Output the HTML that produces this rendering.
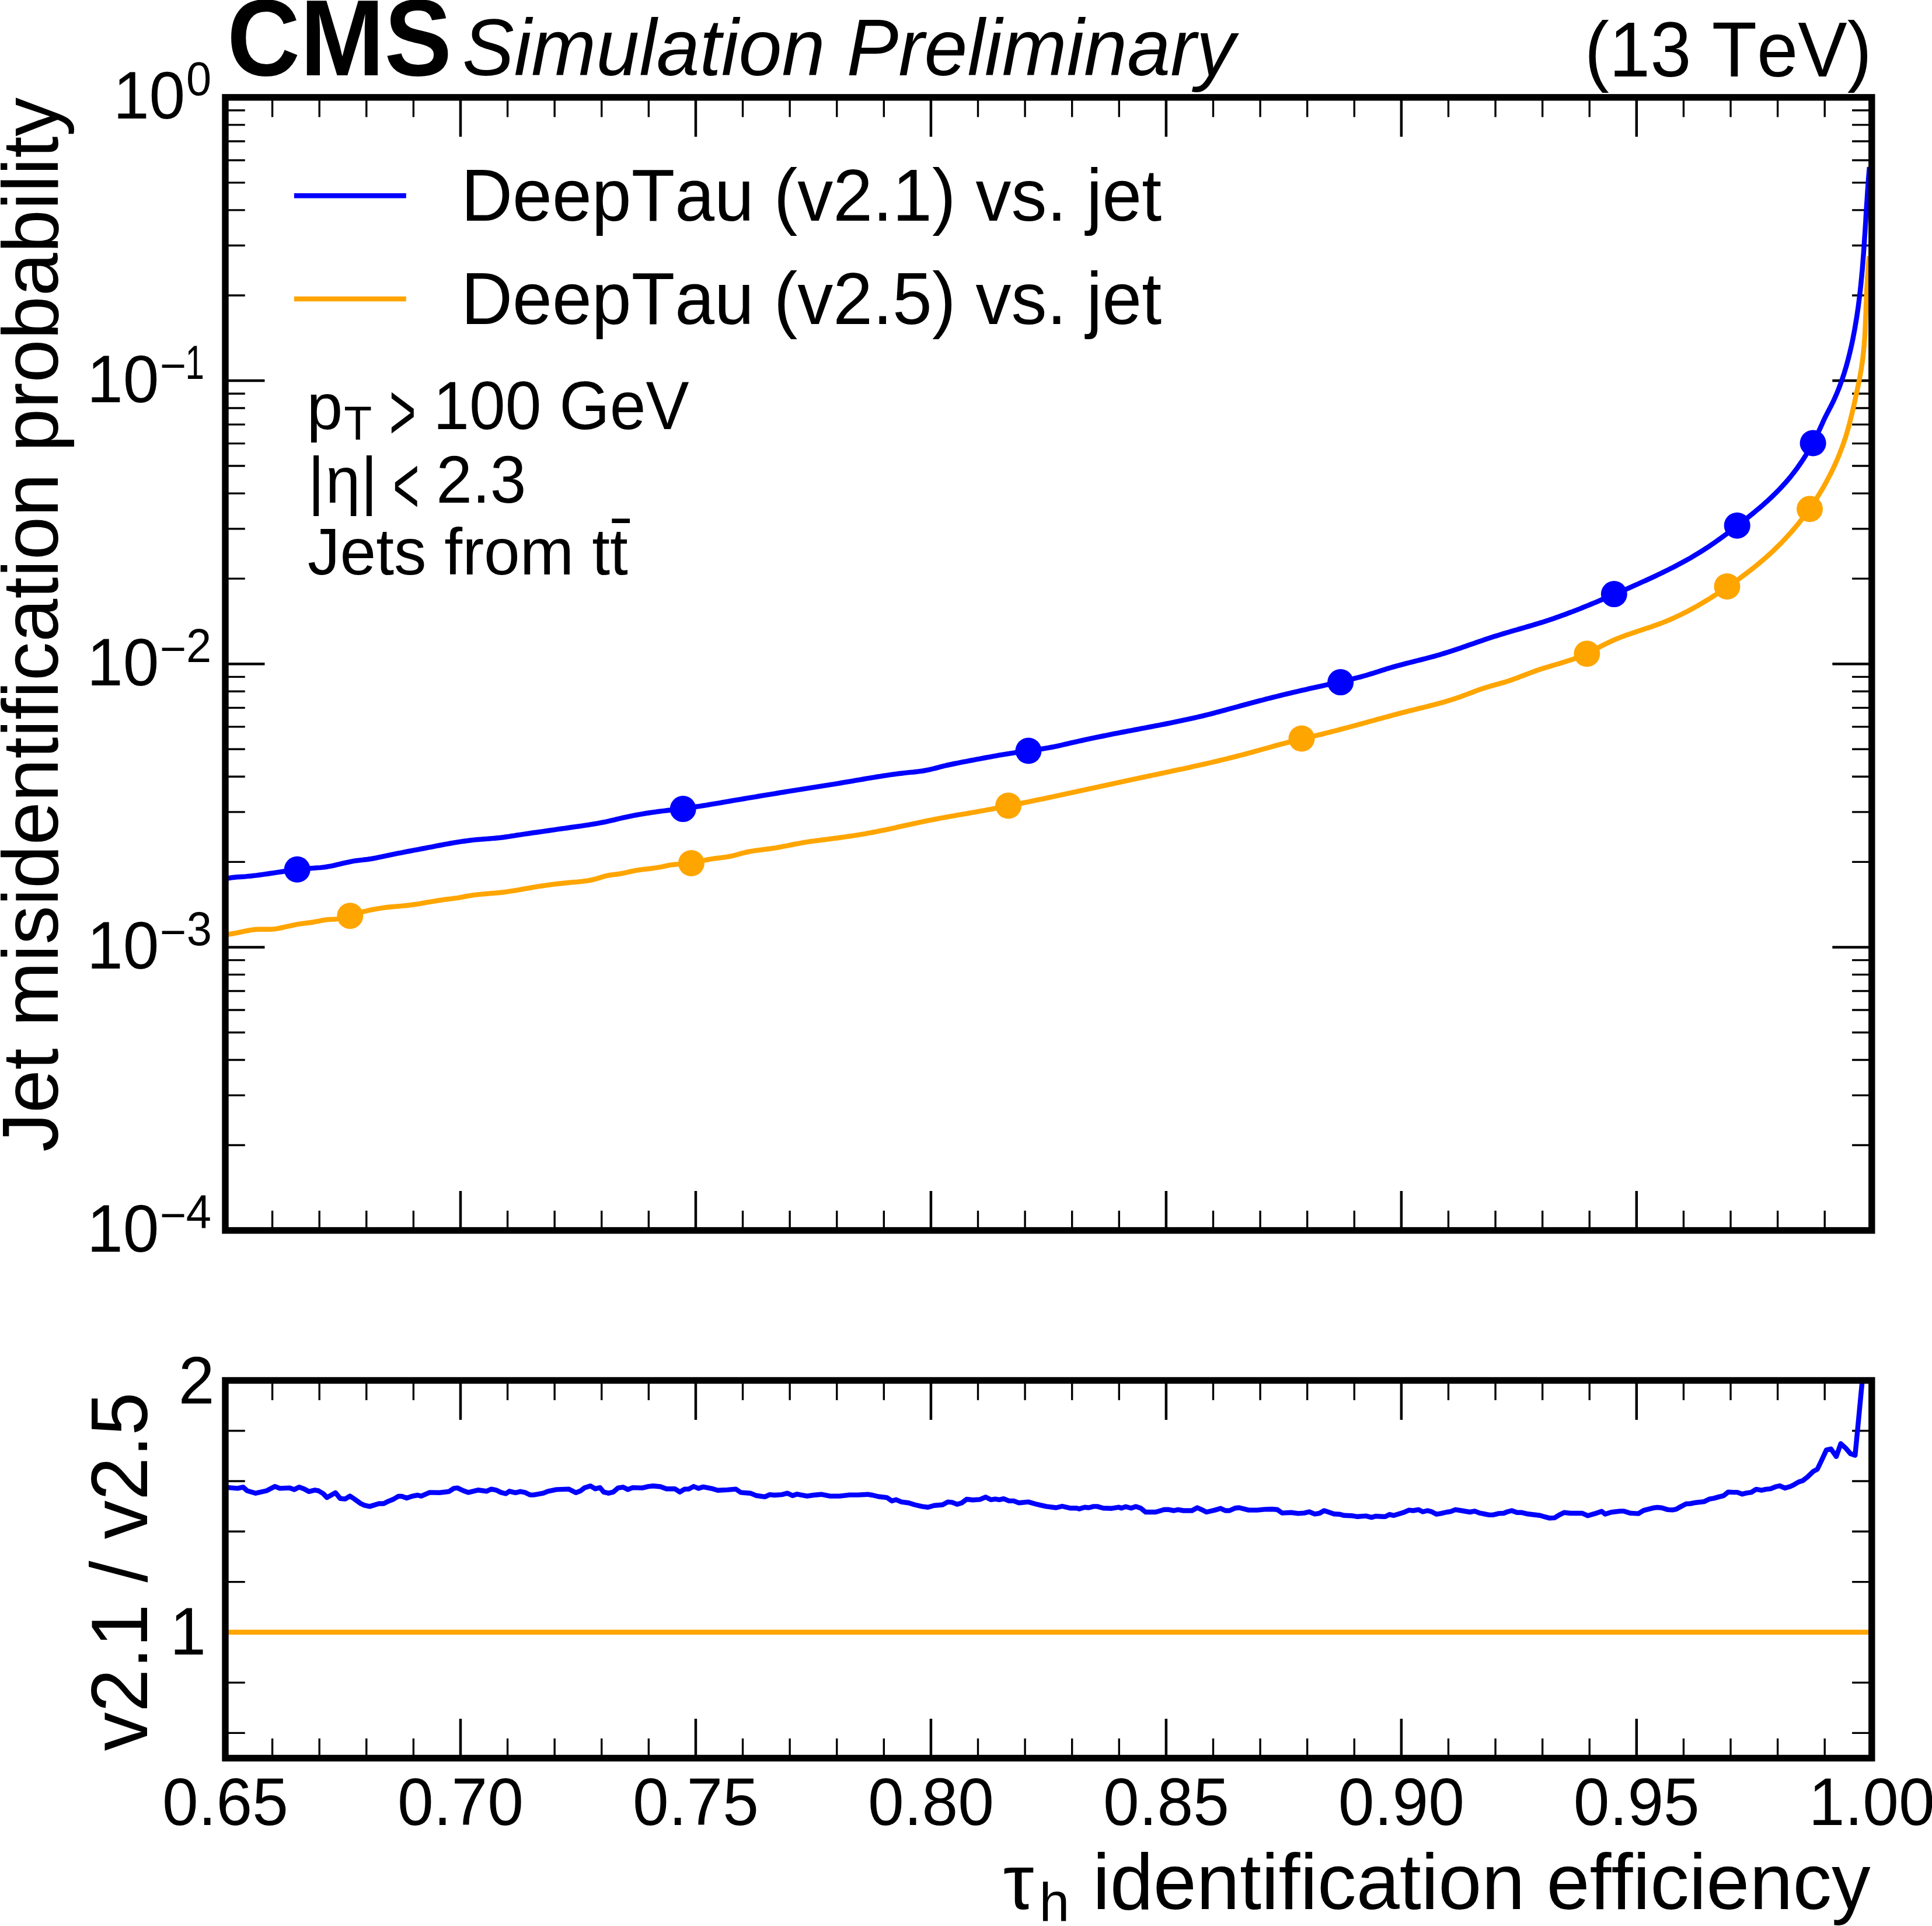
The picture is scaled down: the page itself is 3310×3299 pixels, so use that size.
<!DOCTYPE html>
<html lang="en"><head><meta charset="utf-8"><title>DeepTau ROC: jet misidentification probability vs tau identification efficiency</title>
<style>html,body{margin:0;padding:0;background:#fff}svg{display:block}</style></head>
<body>
<svg width="3310" height="3299" viewBox="0 0 3310 3299" font-family='"Liberation Sans", "DejaVu Sans", sans-serif' style="font-kerning:none">
<rect width="3310" height="3299" fill="#fff"/>
<defs><clipPath id="c1"><rect x="386.0" y="166.8" width="2820.8" height="1940.8"/></clipPath><clipPath id="c2"><rect x="386.0" y="2364.5" width="2820.8" height="647.0"/></clipPath></defs>
<g stroke="#000" fill="none">
<path d="M386.00 166.80v67.50M386.00 2107.60v-67.50" stroke-width="4.50"/>
<path d="M466.59 166.80v33.75M466.59 2107.60v-33.75" stroke-width="3.38"/>
<path d="M547.19 166.80v33.75M547.19 2107.60v-33.75" stroke-width="3.38"/>
<path d="M627.78 166.80v33.75M627.78 2107.60v-33.75" stroke-width="3.38"/>
<path d="M708.38 166.80v33.75M708.38 2107.60v-33.75" stroke-width="3.38"/>
<path d="M788.97 166.80v67.50M788.97 2107.60v-67.50" stroke-width="4.50"/>
<path d="M869.57 166.80v33.75M869.57 2107.60v-33.75" stroke-width="3.38"/>
<path d="M950.16 166.80v33.75M950.16 2107.60v-33.75" stroke-width="3.38"/>
<path d="M1030.75 166.80v33.75M1030.75 2107.60v-33.75" stroke-width="3.38"/>
<path d="M1111.35 166.80v33.75M1111.35 2107.60v-33.75" stroke-width="3.38"/>
<path d="M1191.94 166.80v67.50M1191.94 2107.60v-67.50" stroke-width="4.50"/>
<path d="M1272.54 166.80v33.75M1272.54 2107.60v-33.75" stroke-width="3.38"/>
<path d="M1353.13 166.80v33.75M1353.13 2107.60v-33.75" stroke-width="3.38"/>
<path d="M1433.73 166.80v33.75M1433.73 2107.60v-33.75" stroke-width="3.38"/>
<path d="M1514.32 166.80v33.75M1514.32 2107.60v-33.75" stroke-width="3.38"/>
<path d="M1594.91 166.80v67.50M1594.91 2107.60v-67.50" stroke-width="4.50"/>
<path d="M1675.51 166.80v33.75M1675.51 2107.60v-33.75" stroke-width="3.38"/>
<path d="M1756.10 166.80v33.75M1756.10 2107.60v-33.75" stroke-width="3.38"/>
<path d="M1836.70 166.80v33.75M1836.70 2107.60v-33.75" stroke-width="3.38"/>
<path d="M1917.29 166.80v33.75M1917.29 2107.60v-33.75" stroke-width="3.38"/>
<path d="M1997.89 166.80v67.50M1997.89 2107.60v-67.50" stroke-width="4.50"/>
<path d="M2078.48 166.80v33.75M2078.48 2107.60v-33.75" stroke-width="3.38"/>
<path d="M2159.07 166.80v33.75M2159.07 2107.60v-33.75" stroke-width="3.38"/>
<path d="M2239.67 166.80v33.75M2239.67 2107.60v-33.75" stroke-width="3.38"/>
<path d="M2320.26 166.80v33.75M2320.26 2107.60v-33.75" stroke-width="3.38"/>
<path d="M2400.86 166.80v67.50M2400.86 2107.60v-67.50" stroke-width="4.50"/>
<path d="M2481.45 166.80v33.75M2481.45 2107.60v-33.75" stroke-width="3.38"/>
<path d="M2562.05 166.80v33.75M2562.05 2107.60v-33.75" stroke-width="3.38"/>
<path d="M2642.64 166.80v33.75M2642.64 2107.60v-33.75" stroke-width="3.38"/>
<path d="M2723.23 166.80v33.75M2723.23 2107.60v-33.75" stroke-width="3.38"/>
<path d="M2803.83 166.80v67.50M2803.83 2107.60v-67.50" stroke-width="4.50"/>
<path d="M2884.42 166.80v33.75M2884.42 2107.60v-33.75" stroke-width="3.38"/>
<path d="M2965.02 166.80v33.75M2965.02 2107.60v-33.75" stroke-width="3.38"/>
<path d="M3045.61 166.80v33.75M3045.61 2107.60v-33.75" stroke-width="3.38"/>
<path d="M3126.21 166.80v33.75M3126.21 2107.60v-33.75" stroke-width="3.38"/>
<path d="M3206.80 166.80v67.50M3206.80 2107.60v-67.50" stroke-width="4.50"/>
<path d="M386.00 2364.50v67.50M386.00 3011.50v-67.50" stroke-width="4.50"/>
<path d="M466.59 2364.50v33.75M466.59 3011.50v-33.75" stroke-width="3.38"/>
<path d="M547.19 2364.50v33.75M547.19 3011.50v-33.75" stroke-width="3.38"/>
<path d="M627.78 2364.50v33.75M627.78 3011.50v-33.75" stroke-width="3.38"/>
<path d="M708.38 2364.50v33.75M708.38 3011.50v-33.75" stroke-width="3.38"/>
<path d="M788.97 2364.50v67.50M788.97 3011.50v-67.50" stroke-width="4.50"/>
<path d="M869.57 2364.50v33.75M869.57 3011.50v-33.75" stroke-width="3.38"/>
<path d="M950.16 2364.50v33.75M950.16 3011.50v-33.75" stroke-width="3.38"/>
<path d="M1030.75 2364.50v33.75M1030.75 3011.50v-33.75" stroke-width="3.38"/>
<path d="M1111.35 2364.50v33.75M1111.35 3011.50v-33.75" stroke-width="3.38"/>
<path d="M1191.94 2364.50v67.50M1191.94 3011.50v-67.50" stroke-width="4.50"/>
<path d="M1272.54 2364.50v33.75M1272.54 3011.50v-33.75" stroke-width="3.38"/>
<path d="M1353.13 2364.50v33.75M1353.13 3011.50v-33.75" stroke-width="3.38"/>
<path d="M1433.73 2364.50v33.75M1433.73 3011.50v-33.75" stroke-width="3.38"/>
<path d="M1514.32 2364.50v33.75M1514.32 3011.50v-33.75" stroke-width="3.38"/>
<path d="M1594.91 2364.50v67.50M1594.91 3011.50v-67.50" stroke-width="4.50"/>
<path d="M1675.51 2364.50v33.75M1675.51 3011.50v-33.75" stroke-width="3.38"/>
<path d="M1756.10 2364.50v33.75M1756.10 3011.50v-33.75" stroke-width="3.38"/>
<path d="M1836.70 2364.50v33.75M1836.70 3011.50v-33.75" stroke-width="3.38"/>
<path d="M1917.29 2364.50v33.75M1917.29 3011.50v-33.75" stroke-width="3.38"/>
<path d="M1997.89 2364.50v67.50M1997.89 3011.50v-67.50" stroke-width="4.50"/>
<path d="M2078.48 2364.50v33.75M2078.48 3011.50v-33.75" stroke-width="3.38"/>
<path d="M2159.07 2364.50v33.75M2159.07 3011.50v-33.75" stroke-width="3.38"/>
<path d="M2239.67 2364.50v33.75M2239.67 3011.50v-33.75" stroke-width="3.38"/>
<path d="M2320.26 2364.50v33.75M2320.26 3011.50v-33.75" stroke-width="3.38"/>
<path d="M2400.86 2364.50v67.50M2400.86 3011.50v-67.50" stroke-width="4.50"/>
<path d="M2481.45 2364.50v33.75M2481.45 3011.50v-33.75" stroke-width="3.38"/>
<path d="M2562.05 2364.50v33.75M2562.05 3011.50v-33.75" stroke-width="3.38"/>
<path d="M2642.64 2364.50v33.75M2642.64 3011.50v-33.75" stroke-width="3.38"/>
<path d="M2723.23 2364.50v33.75M2723.23 3011.50v-33.75" stroke-width="3.38"/>
<path d="M2803.83 2364.50v67.50M2803.83 3011.50v-67.50" stroke-width="4.50"/>
<path d="M2884.42 2364.50v33.75M2884.42 3011.50v-33.75" stroke-width="3.38"/>
<path d="M2965.02 2364.50v33.75M2965.02 3011.50v-33.75" stroke-width="3.38"/>
<path d="M3045.61 2364.50v33.75M3045.61 3011.50v-33.75" stroke-width="3.38"/>
<path d="M3126.21 2364.50v33.75M3126.21 3011.50v-33.75" stroke-width="3.38"/>
<path d="M3206.80 2364.50v67.50M3206.80 3011.50v-67.50" stroke-width="4.50"/>
<path d="M386.0 166.80h67.50M3206.8 166.80h-67.50" stroke-width="4.50"/>
<path d="M386.0 505.94h33.75M3206.8 505.94h-33.75" stroke-width="3.38"/>
<path d="M386.0 420.50h33.75M3206.8 420.50h-33.75" stroke-width="3.38"/>
<path d="M386.0 359.88h33.75M3206.8 359.88h-33.75" stroke-width="3.38"/>
<path d="M386.0 312.86h33.75M3206.8 312.86h-33.75" stroke-width="3.38"/>
<path d="M386.0 274.44h33.75M3206.8 274.44h-33.75" stroke-width="3.38"/>
<path d="M386.0 241.96h33.75M3206.8 241.96h-33.75" stroke-width="3.38"/>
<path d="M386.0 213.82h33.75M3206.8 213.82h-33.75" stroke-width="3.38"/>
<path d="M386.0 189.00h33.75M3206.8 189.00h-33.75" stroke-width="3.38"/>
<path d="M386.0 652.00h67.50M3206.8 652.00h-67.50" stroke-width="4.50"/>
<path d="M386.0 991.14h33.75M3206.8 991.14h-33.75" stroke-width="3.38"/>
<path d="M386.0 905.70h33.75M3206.8 905.70h-33.75" stroke-width="3.38"/>
<path d="M386.0 845.08h33.75M3206.8 845.08h-33.75" stroke-width="3.38"/>
<path d="M386.0 798.06h33.75M3206.8 798.06h-33.75" stroke-width="3.38"/>
<path d="M386.0 759.64h33.75M3206.8 759.64h-33.75" stroke-width="3.38"/>
<path d="M386.0 727.16h33.75M3206.8 727.16h-33.75" stroke-width="3.38"/>
<path d="M386.0 699.02h33.75M3206.8 699.02h-33.75" stroke-width="3.38"/>
<path d="M386.0 674.20h33.75M3206.8 674.20h-33.75" stroke-width="3.38"/>
<path d="M386.0 1137.20h67.50M3206.8 1137.20h-67.50" stroke-width="4.50"/>
<path d="M386.0 1476.34h33.75M3206.8 1476.34h-33.75" stroke-width="3.38"/>
<path d="M386.0 1390.90h33.75M3206.8 1390.90h-33.75" stroke-width="3.38"/>
<path d="M386.0 1330.28h33.75M3206.8 1330.28h-33.75" stroke-width="3.38"/>
<path d="M386.0 1283.26h33.75M3206.8 1283.26h-33.75" stroke-width="3.38"/>
<path d="M386.0 1244.84h33.75M3206.8 1244.84h-33.75" stroke-width="3.38"/>
<path d="M386.0 1212.36h33.75M3206.8 1212.36h-33.75" stroke-width="3.38"/>
<path d="M386.0 1184.22h33.75M3206.8 1184.22h-33.75" stroke-width="3.38"/>
<path d="M386.0 1159.40h33.75M3206.8 1159.40h-33.75" stroke-width="3.38"/>
<path d="M386.0 1622.40h67.50M3206.8 1622.40h-67.50" stroke-width="4.50"/>
<path d="M386.0 1961.54h33.75M3206.8 1961.54h-33.75" stroke-width="3.38"/>
<path d="M386.0 1876.10h33.75M3206.8 1876.10h-33.75" stroke-width="3.38"/>
<path d="M386.0 1815.48h33.75M3206.8 1815.48h-33.75" stroke-width="3.38"/>
<path d="M386.0 1768.46h33.75M3206.8 1768.46h-33.75" stroke-width="3.38"/>
<path d="M386.0 1730.04h33.75M3206.8 1730.04h-33.75" stroke-width="3.38"/>
<path d="M386.0 1697.56h33.75M3206.8 1697.56h-33.75" stroke-width="3.38"/>
<path d="M386.0 1669.42h33.75M3206.8 1669.42h-33.75" stroke-width="3.38"/>
<path d="M386.0 1644.60h33.75M3206.8 1644.60h-33.75" stroke-width="3.38"/>
<path d="M386.0 2107.60h67.50M3206.8 2107.60h-67.50" stroke-width="4.50"/>
<path d="M386.0 2364.50h67.50M3206.8 2364.50h-67.50" stroke-width="4.50"/>
<path d="M386.0 2795.83h67.50M3206.8 2795.83h-67.50" stroke-width="4.50"/>
<path d="M386.0 2450.77h33.75M3206.8 2450.77h-33.75" stroke-width="3.38"/>
<path d="M386.0 2537.03h33.75M3206.8 2537.03h-33.75" stroke-width="3.38"/>
<path d="M386.0 2623.30h33.75M3206.8 2623.30h-33.75" stroke-width="3.38"/>
<path d="M386.0 2709.57h33.75M3206.8 2709.57h-33.75" stroke-width="3.38"/>
<path d="M386.0 2882.10h33.75M3206.8 2882.10h-33.75" stroke-width="3.38"/>
<path d="M386.0 2968.37h33.75M3206.8 2968.37h-33.75" stroke-width="3.38"/>
</g>
<g clip-path="url(#c1)" fill="none" stroke-width="8.44" stroke-linejoin="round">
<path d="M382.5 1506.4L387.3 1505.0L392.0 1504.0L396.7 1503.3L401.5 1502.7L406.2 1502.3L411.0 1502.0L415.7 1501.7L420.5 1501.4L425.2 1500.9L430.0 1500.5L434.7 1499.9L439.5 1499.4L444.2 1498.8L449.0 1498.1L453.7 1497.4L458.5 1496.7L463.2 1496.0L467.9 1495.3L472.7 1494.6L477.4 1493.9L482.2 1493.2L486.9 1492.5L491.7 1491.8L496.4 1491.1L501.2 1490.5L505.9 1489.9L510.7 1489.3L515.4 1488.8L520.2 1488.3L524.9 1487.9L529.7 1487.5L534.4 1487.1L539.2 1486.8L543.9 1486.4L548.7 1486.1L553.4 1485.6L558.2 1485.0L562.9 1484.2L567.7 1483.3L572.4 1482.3L577.2 1481.2L581.9 1480.1L586.7 1478.9L591.4 1477.8L596.2 1476.8L600.9 1475.8L605.7 1474.9L610.4 1474.2L615.2 1473.6L619.9 1473.1L624.7 1472.5L629.4 1472.0L634.2 1471.3L638.9 1470.5L643.7 1469.6L648.4 1468.7L653.2 1467.7L657.9 1466.6L662.7 1465.6L667.4 1464.6L672.2 1463.6L676.9 1462.7L681.7 1461.7L686.4 1460.8L691.2 1459.9L695.9 1458.9L700.7 1458.0L705.4 1457.1L710.2 1456.2L714.9 1455.3L719.7 1454.4L724.4 1453.5L729.2 1452.6L733.9 1451.7L738.7 1450.8L743.4 1449.9L748.2 1448.9L752.9 1448.0L757.7 1447.1L762.4 1446.2L767.2 1445.4L771.9 1444.5L776.7 1443.7L781.4 1442.9L786.2 1442.1L790.9 1441.4L795.7 1440.7L800.4 1440.1L805.2 1439.5L809.9 1438.9L814.7 1438.4L819.4 1438.0L824.2 1437.6L829.0 1437.2L833.7 1436.9L838.5 1436.5L843.2 1436.1L848.0 1435.7L852.7 1435.3L857.5 1434.8L862.2 1434.2L867.0 1433.5L871.7 1432.8L876.5 1432.0L881.2 1431.3L886.0 1430.5L890.7 1429.8L895.5 1429.1L900.2 1428.4L905.0 1427.7L909.7 1427.0L914.5 1426.3L919.2 1425.7L924.0 1425.0L928.7 1424.3L933.5 1423.6L938.2 1423.0L943.0 1422.3L947.7 1421.6L952.5 1420.9L957.2 1420.2L962.0 1419.5L966.7 1418.9L971.5 1418.2L976.2 1417.5L981.0 1416.8L985.7 1416.1L990.5 1415.5L995.2 1414.8L1000.0 1414.1L1004.7 1413.4L1009.5 1412.7L1014.2 1411.9L1019.0 1411.1L1023.7 1410.3L1028.5 1409.4L1033.2 1408.5L1038.0 1407.6L1042.7 1406.5L1047.5 1405.4L1052.2 1404.3L1057.0 1403.1L1061.7 1402.0L1066.5 1400.9L1071.2 1399.8L1076.0 1398.8L1080.7 1397.8L1085.5 1396.9L1090.2 1396.0L1095.0 1395.1L1099.7 1394.3L1104.5 1393.5L1109.2 1392.7L1114.0 1392.0L1118.7 1391.3L1123.5 1390.7L1128.2 1390.0L1133.0 1389.4L1137.7 1388.9L1142.5 1388.3L1147.2 1387.7L1152.0 1387.2L1156.7 1386.6L1161.5 1386.0L1166.2 1385.5L1171.0 1384.9L1175.7 1384.2L1180.5 1383.6L1185.2 1382.9L1189.9 1382.2L1194.7 1381.5L1199.4 1380.8L1204.2 1380.0L1208.9 1379.3L1213.7 1378.5L1218.4 1377.7L1223.2 1376.9L1227.9 1376.1L1232.7 1375.3L1237.4 1374.5L1242.2 1373.7L1246.9 1372.8L1251.7 1372.0L1256.4 1371.2L1261.1 1370.4L1265.9 1369.6L1270.6 1368.8L1275.4 1368.0L1280.1 1367.2L1284.9 1366.4L1289.6 1365.6L1294.4 1364.8L1299.1 1364.0L1303.9 1363.2L1308.6 1362.4L1313.3 1361.6L1318.1 1360.8L1322.8 1360.1L1327.6 1359.3L1332.3 1358.5L1337.1 1357.7L1341.8 1357.0L1346.5 1356.2L1351.3 1355.4L1356.0 1354.7L1360.8 1353.9L1365.5 1353.1L1370.3 1352.4L1375.0 1351.6L1379.7 1350.9L1384.5 1350.1L1389.2 1349.4L1394.0 1348.6L1398.7 1347.9L1403.5 1347.1L1408.2 1346.4L1412.9 1345.6L1417.7 1344.9L1422.4 1344.1L1427.2 1343.4L1431.9 1342.6L1436.6 1341.8L1441.4 1341.0L1446.1 1340.2L1450.9 1339.4L1455.6 1338.6L1460.3 1337.8L1465.1 1336.9L1469.8 1336.1L1474.6 1335.3L1479.3 1334.5L1484.0 1333.7L1488.8 1332.9L1493.5 1332.1L1498.2 1331.3L1503.0 1330.5L1507.7 1329.8L1512.5 1329.0L1517.2 1328.3L1521.9 1327.6L1526.7 1326.9L1531.4 1326.3L1536.1 1325.6L1540.9 1325.0L1545.6 1324.5L1550.3 1323.9L1555.1 1323.4L1559.8 1322.9L1564.6 1322.5L1569.3 1322.0L1574.0 1321.4L1578.8 1320.8L1583.5 1320.0L1588.2 1319.1L1593.0 1318.1L1597.7 1317.0L1602.4 1315.8L1607.2 1314.6L1611.9 1313.3L1616.6 1312.2L1621.4 1311.0L1626.1 1310.0L1630.8 1309.0L1635.6 1308.0L1640.3 1307.1L1645.0 1306.2L1649.7 1305.2L1654.5 1304.3L1659.2 1303.4L1663.9 1302.5L1668.7 1301.6L1673.4 1300.7L1678.1 1299.8L1682.9 1298.9L1687.6 1298.0L1692.3 1297.1L1697.0 1296.3L1701.8 1295.4L1706.5 1294.6L1711.2 1293.7L1716.0 1292.9L1720.7 1292.1L1725.4 1291.3L1730.1 1290.6L1734.9 1289.9L1739.6 1289.1L1744.3 1288.5L1749.0 1287.8L1753.8 1287.2L1758.5 1286.5L1763.2 1285.9L1767.9 1285.2L1772.7 1284.6L1777.4 1283.9L1782.1 1283.2L1786.8 1282.5L1791.6 1281.7L1796.3 1280.9L1801.0 1280.0L1805.7 1279.1L1810.5 1278.1L1815.2 1277.1L1819.9 1276.0L1824.6 1274.9L1829.3 1273.8L1834.1 1272.7L1838.8 1271.6L1843.5 1270.6L1848.2 1269.5L1852.9 1268.5L1857.7 1267.4L1862.4 1266.4L1867.1 1265.4L1871.8 1264.4L1876.5 1263.4L1881.3 1262.4L1886.0 1261.5L1890.7 1260.5L1895.4 1259.6L1900.1 1258.6L1904.8 1257.7L1909.5 1256.7L1914.3 1255.8L1919.0 1254.9L1923.7 1254.0L1928.4 1253.1L1933.1 1252.2L1937.8 1251.3L1942.5 1250.4L1947.3 1249.5L1952.0 1248.6L1956.7 1247.7L1961.4 1246.8L1966.1 1245.9L1970.8 1245.0L1975.5 1244.1L1980.2 1243.2L1984.9 1242.3L1989.6 1241.4L1994.3 1240.5L1999.1 1239.5L2003.8 1238.6L2008.5 1237.7L2013.2 1236.7L2017.9 1235.7L2022.6 1234.7L2027.3 1233.7L2032.0 1232.7L2036.7 1231.7L2041.4 1230.7L2046.1 1229.6L2050.8 1228.5L2055.5 1227.4L2060.2 1226.3L2064.9 1225.1L2069.6 1224.0L2074.3 1222.8L2079.0 1221.6L2083.7 1220.3L2088.4 1219.1L2093.1 1217.8L2097.7 1216.6L2102.4 1215.3L2107.1 1214.0L2111.8 1212.7L2116.5 1211.5L2121.2 1210.2L2125.9 1208.9L2130.6 1207.7L2135.3 1206.4L2139.9 1205.1L2144.6 1203.9L2149.3 1202.7L2154.0 1201.4L2158.7 1200.2L2163.4 1199.0L2168.0 1197.7L2172.7 1196.5L2177.4 1195.3L2182.1 1194.2L2186.8 1193.0L2191.4 1191.8L2196.1 1190.7L2200.8 1189.5L2205.5 1188.4L2210.1 1187.3L2214.8 1186.2L2219.5 1185.1L2224.2 1184.0L2228.8 1182.9L2233.5 1181.8L2238.2 1180.8L2242.8 1179.7L2247.5 1178.7L2252.2 1177.7L2256.8 1176.6L2261.5 1175.6L2266.1 1174.6L2270.8 1173.5L2275.5 1172.5L2280.1 1171.5L2284.8 1170.5L2289.4 1169.5L2294.1 1168.4L2298.7 1167.4L2303.4 1166.3L2308.1 1165.2L2312.7 1164.1L2317.4 1162.9L2322.0 1161.7L2326.7 1160.5L2331.3 1159.3L2335.9 1158.0L2340.6 1156.7L2345.2 1155.3L2349.9 1153.9L2354.5 1152.4L2359.2 1150.9L2363.8 1149.5L2368.4 1148.0L2373.1 1146.6L2377.7 1145.1L2382.3 1143.8L2387.0 1142.4L2391.6 1141.1L2396.2 1139.8L2400.9 1138.6L2405.5 1137.4L2410.1 1136.2L2414.8 1135.0L2419.4 1133.8L2424.0 1132.7L2428.6 1131.5L2433.2 1130.3L2437.9 1129.1L2442.5 1128.0L2447.1 1126.7L2451.7 1125.5L2456.3 1124.3L2460.9 1123.0L2465.6 1121.7L2470.2 1120.3L2474.8 1118.9L2479.4 1117.5L2484.0 1116.0L2488.6 1114.5L2493.2 1113.0L2497.8 1111.5L2502.4 1109.9L2507.0 1108.3L2511.6 1106.7L2516.2 1105.1L2520.8 1103.5L2525.4 1101.9L2530.0 1100.3L2534.5 1098.8L2539.1 1097.2L2543.7 1095.6L2548.3 1094.1L2552.9 1092.6L2557.5 1091.1L2562.0 1089.6L2566.6 1088.2L2571.2 1086.8L2575.8 1085.4L2580.3 1084.0L2584.9 1082.7L2589.5 1081.3L2594.0 1080.0L2598.6 1078.7L2603.2 1077.4L2607.7 1076.1L2612.3 1074.8L2616.9 1073.4L2621.4 1072.1L2626.0 1070.8L2630.5 1069.4L2635.1 1068.0L2639.6 1066.6L2644.2 1065.2L2648.7 1063.7L2653.3 1062.2L2657.8 1060.7L2662.3 1059.2L2666.9 1057.6L2671.4 1056.0L2675.9 1054.3L2680.5 1052.7L2685.0 1051.0L2689.5 1049.3L2694.1 1047.6L2698.6 1045.8L2703.1 1044.1L2707.6 1042.3L2712.1 1040.5L2716.6 1038.7L2721.1 1036.9L2725.6 1035.0L2730.1 1033.2L2734.6 1031.3L2739.1 1029.4L2743.6 1027.5L2748.1 1025.6L2752.5 1023.7L2757.0 1021.8L2761.5 1019.9L2765.9 1018.0L2770.4 1016.1L2774.8 1014.1L2779.2 1012.2L2783.6 1010.2L2788.1 1008.3L2792.5 1006.3L2796.9 1004.4L2801.3 1002.4L2805.7 1000.5L2810.0 998.5L2814.4 996.5L2818.8 994.6L2823.1 992.6L2827.5 990.6L2831.8 988.6L2836.1 986.6L2840.4 984.5L2844.7 982.5L2849.0 980.4L2853.3 978.3L2857.6 976.2L2861.8 974.1L2866.1 972.0L2870.3 969.8L2874.5 967.6L2878.7 965.3L2882.9 963.1L2887.1 960.8L2891.3 958.4L2895.5 956.1L2899.6 953.7L2903.7 951.2L2907.9 948.7L2912.0 946.2L2916.1 943.6L2920.1 941.0L2924.2 938.4L2928.3 935.7L2932.3 932.9L2936.3 930.2L2940.3 927.4L2944.3 924.5L2948.3 921.7L2952.2 918.8L2956.2 915.9L2960.1 913.0L2964.0 910.0L2967.9 907.1L2971.7 904.1L2975.6 901.2L2979.4 898.2L2983.2 895.3L2987.0 892.3L2990.8 889.3L2994.6 886.4L2998.3 883.4L3002.0 880.4L3005.7 877.4L3009.3 874.3L3013.0 871.3L3016.6 868.2L3020.2 865.1L3023.7 861.9L3027.2 858.8L3030.7 855.6L3034.2 852.4L3037.6 849.1L3041.0 845.8L3044.3 842.5L3047.6 839.1L3050.9 835.7L3054.1 832.2L3057.3 828.7L3060.5 825.1L3063.6 821.5L3066.7 817.8L3069.7 814.0L3072.7 810.2L3075.6 806.4L3078.5 802.5L3081.3 798.5L3084.1 794.5L3086.9 790.5L3089.6 786.4L3092.2 782.3L3094.8 778.1L3097.4 773.9L3099.8 769.7L3102.3 765.5L3104.6 761.2L3107.0 756.9L3109.2 752.6L3111.4 748.3L3113.5 743.9L3115.6 739.6L3117.6 735.2L3119.6 730.8L3121.6 726.5L3123.5 722.1L3125.5 717.8L3127.6 713.5L3129.8 709.2L3132.0 705.0L3134.2 700.7L3136.4 696.5L3138.6 692.2L3140.7 687.9L3142.7 683.5L3144.6 679.2L3146.5 674.8L3148.4 670.3L3150.1 665.9L3151.9 661.4L3153.5 656.9L3155.1 652.4L3156.7 647.8L3158.2 643.3L3159.7 638.7L3161.1 634.1L3162.5 629.5L3163.8 624.9L3165.1 620.2L3166.3 615.6L3167.5 610.9L3168.7 606.2L3169.8 601.5L3170.9 596.8L3172.0 592.1L3173.0 587.4L3174.0 582.7L3174.9 578.0L3175.8 573.2L3176.7 568.5L3177.6 563.8L3178.4 559.0L3179.2 554.3L3180.0 549.5L3180.8 544.8L3181.5 540.0L3182.2 535.3L3182.9 530.5L3183.6 525.7L3184.2 521.0L3184.8 516.2L3185.4 511.4L3186.0 506.7L3186.5 501.9L3187.1 497.1L3187.6 492.3L3188.1 487.5L3188.6 482.8L3189.0 478.0L3189.5 473.2L3189.9 468.4L3190.4 463.6L3190.8 458.8L3191.2 454.0L3191.6 449.2L3191.9 444.4L3192.3 439.6L3192.7 434.8L3193.0 430.0L3193.4 425.2L3193.7 420.4L3194.0 415.6L3194.3 410.8L3194.6 406.0L3195.0 401.2L3195.3 396.4L3195.6 391.6L3195.9 386.8L3196.2 382.0L3196.5 377.2L3196.7 372.4L3197.0 367.6L3197.3 362.8L3197.6 358.0L3197.9 353.2L3198.2 348.4L3198.6 343.6L3198.9 338.8L3199.2 334.0L3199.5 329.2L3199.8 324.4L3200.2 319.6L3200.5 314.8L3200.9 310.0L3201.2 305.2L3201.6 300.4L3202.0 295.6L3202.4 290.8L3202.8 286.0" stroke="#0000ff"/>
<path d="M382.5 1602.4L387.2 1601.3L391.9 1600.4L396.6 1599.5L401.3 1598.6L406.0 1597.8L410.6 1596.8L415.3 1595.9L420.0 1594.9L424.7 1594.0L429.4 1593.2L434.0 1592.5L438.7 1592.0L443.4 1591.7L448.0 1591.7L452.7 1591.7L457.4 1591.8L462.0 1591.8L466.7 1591.5L471.3 1591.1L476.0 1590.4L480.6 1589.5L485.3 1588.5L489.9 1587.4L494.6 1586.3L499.2 1585.3L503.9 1584.3L508.5 1583.4L513.2 1582.7L517.8 1582.0L522.5 1581.4L527.1 1580.8L531.7 1580.2L536.4 1579.5L541.0 1578.7L545.7 1577.8L550.3 1576.9L554.9 1576.0L559.6 1575.3L564.2 1574.9L568.8 1574.7L573.5 1574.5L578.1 1574.1L582.7 1573.2L587.4 1572.1L592.0 1570.7L596.7 1569.1L601.3 1567.6L605.9 1566.1L610.6 1564.8L615.2 1563.5L619.8 1562.2L624.5 1561.1L629.1 1560.0L633.8 1558.9L638.4 1558.0L643.1 1557.1L647.7 1556.3L652.3 1555.6L657.0 1554.9L661.6 1554.3L666.3 1553.8L670.9 1553.3L675.6 1552.9L680.3 1552.5L684.9 1552.1L689.6 1551.6L694.2 1551.2L698.9 1550.7L703.6 1550.1L708.2 1549.5L712.9 1548.8L717.6 1548.1L722.2 1547.3L726.9 1546.5L731.6 1545.7L736.3 1544.9L740.9 1544.1L745.6 1543.3L750.3 1542.5L755.0 1541.8L759.7 1541.1L764.4 1540.5L769.1 1539.9L773.7 1539.4L778.4 1538.7L783.1 1538.1L787.8 1537.3L792.5 1536.4L797.2 1535.5L801.9 1534.6L806.6 1533.9L811.3 1533.2L816.0 1532.6L820.7 1532.1L825.3 1531.6L830.0 1531.2L834.7 1530.8L839.4 1530.4L844.1 1530.0L848.8 1529.6L853.5 1529.2L858.2 1528.7L862.9 1528.2L867.5 1527.6L872.2 1526.9L876.9 1526.2L881.6 1525.5L886.3 1524.7L891.0 1523.8L895.6 1523.0L900.3 1522.2L905.0 1521.3L909.7 1520.5L914.3 1519.7L919.0 1518.9L923.7 1518.2L928.3 1517.5L933.0 1516.8L937.7 1516.1L942.3 1515.5L947.0 1514.9L951.6 1514.3L956.3 1513.7L961.0 1513.2L965.6 1512.7L970.3 1512.2L974.9 1511.8L979.6 1511.4L984.2 1511.0L988.9 1510.6L993.5 1510.1L998.2 1509.6L1002.8 1509.0L1007.5 1508.3L1012.1 1507.5L1016.8 1506.5L1021.4 1505.3L1026.1 1503.9L1030.7 1502.4L1035.4 1501.0L1040.0 1499.8L1044.7 1499.0L1049.3 1498.3L1054.0 1497.8L1058.6 1497.2L1063.3 1496.5L1067.9 1495.6L1072.6 1494.6L1077.2 1493.5L1081.9 1492.5L1086.5 1491.5L1091.2 1490.7L1095.9 1490.0L1100.5 1489.4L1105.2 1488.8L1109.8 1488.3L1114.5 1487.7L1119.1 1487.1L1123.8 1486.4L1128.4 1485.7L1133.1 1484.8L1137.7 1483.8L1142.4 1482.8L1147.1 1481.9L1151.7 1481.2L1156.4 1480.7L1161.0 1480.4L1165.7 1480.2L1170.3 1480.0L1175.0 1479.8L1179.6 1479.4L1184.3 1478.8L1189.0 1478.0L1193.6 1476.9L1198.3 1475.8L1202.9 1474.6L1207.6 1473.4L1212.2 1472.5L1216.9 1471.6L1221.6 1470.9L1226.2 1470.3L1230.9 1469.7L1235.5 1469.1L1240.2 1468.5L1244.8 1467.8L1249.5 1467.0L1254.2 1466.1L1258.8 1465.0L1263.5 1463.7L1268.1 1462.4L1272.8 1461.1L1277.4 1460.0L1282.1 1459.0L1286.8 1458.1L1291.4 1457.4L1296.1 1456.7L1300.7 1456.1L1305.4 1455.5L1310.1 1454.9L1314.7 1454.3L1319.4 1453.7L1324.0 1453.0L1328.7 1452.3L1333.3 1451.5L1338.0 1450.6L1342.7 1449.7L1347.3 1448.8L1352.0 1447.9L1356.6 1447.0L1361.3 1446.0L1366.0 1445.1L1370.6 1444.3L1375.3 1443.4L1379.9 1442.6L1384.6 1441.9L1389.2 1441.2L1393.9 1440.6L1398.6 1440.0L1403.2 1439.4L1407.9 1438.8L1412.5 1438.2L1417.2 1437.6L1421.8 1437.0L1426.5 1436.4L1431.2 1435.8L1435.8 1435.2L1440.5 1434.5L1445.1 1433.9L1449.8 1433.2L1454.4 1432.5L1459.1 1431.8L1463.7 1431.1L1468.4 1430.4L1473.1 1429.6L1477.7 1428.9L1482.4 1428.1L1487.0 1427.2L1491.7 1426.4L1496.3 1425.5L1501.0 1424.6L1505.6 1423.7L1510.3 1422.7L1514.9 1421.8L1519.6 1420.8L1524.3 1419.8L1528.9 1418.8L1533.6 1417.8L1538.2 1416.7L1542.9 1415.7L1547.5 1414.7L1552.2 1413.6L1556.8 1412.6L1561.5 1411.6L1566.1 1410.6L1570.8 1409.6L1575.4 1408.6L1580.1 1407.6L1584.7 1406.6L1589.4 1405.7L1594.0 1404.8L1598.7 1403.9L1603.3 1403.0L1608.0 1402.1L1612.6 1401.2L1617.3 1400.4L1621.9 1399.5L1626.6 1398.7L1631.2 1397.9L1635.9 1397.1L1640.5 1396.2L1645.1 1395.4L1649.8 1394.6L1654.4 1393.8L1659.1 1393.0L1663.7 1392.2L1668.4 1391.4L1673.0 1390.6L1677.7 1389.7L1682.3 1388.9L1686.9 1388.1L1691.6 1387.2L1696.2 1386.3L1700.9 1385.5L1705.5 1384.6L1710.2 1383.7L1714.8 1382.8L1719.4 1381.9L1724.1 1381.0L1728.7 1380.1L1733.4 1379.2L1738.0 1378.3L1742.6 1377.4L1747.3 1376.4L1751.9 1375.5L1756.5 1374.5L1761.2 1373.6L1765.8 1372.6L1770.4 1371.7L1775.1 1370.7L1779.7 1369.7L1784.4 1368.8L1789.0 1367.8L1793.6 1366.8L1798.3 1365.8L1802.9 1364.9L1807.5 1363.9L1812.2 1362.9L1816.8 1361.9L1821.4 1360.9L1826.0 1359.9L1830.7 1358.9L1835.3 1357.9L1839.9 1356.9L1844.6 1355.9L1849.2 1354.9L1853.8 1353.9L1858.4 1352.9L1863.1 1351.9L1867.7 1350.9L1872.3 1349.9L1877.0 1348.9L1881.6 1347.9L1886.2 1346.9L1890.8 1345.9L1895.4 1344.9L1900.1 1343.9L1904.7 1342.9L1909.3 1341.9L1913.9 1340.9L1918.6 1339.9L1923.2 1338.9L1927.8 1337.9L1932.4 1336.9L1937.0 1335.9L1941.7 1334.9L1946.3 1333.9L1950.9 1332.9L1955.5 1331.9L1960.1 1331.0L1964.7 1330.0L1969.4 1329.0L1974.0 1328.0L1978.6 1327.1L1983.2 1326.1L1987.8 1325.1L1992.4 1324.1L1997.0 1323.1L2001.7 1322.2L2006.3 1321.2L2010.9 1320.2L2015.5 1319.2L2020.1 1318.2L2024.7 1317.3L2029.3 1316.3L2033.9 1315.3L2038.5 1314.3L2043.1 1313.2L2047.8 1312.2L2052.4 1311.2L2057.0 1310.2L2061.6 1309.1L2066.2 1308.1L2070.8 1307.0L2075.4 1306.0L2080.0 1304.9L2084.6 1303.8L2089.2 1302.7L2093.8 1301.6L2098.4 1300.5L2103.0 1299.4L2107.6 1298.2L2112.2 1297.1L2116.8 1295.9L2121.4 1294.7L2126.0 1293.5L2130.6 1292.3L2135.2 1291.1L2139.8 1289.8L2144.4 1288.6L2149.0 1287.3L2153.6 1286.1L2158.2 1284.8L2162.7 1283.5L2167.3 1282.2L2171.9 1281.0L2176.5 1279.7L2181.1 1278.4L2185.7 1277.2L2190.3 1275.9L2194.9 1274.7L2199.5 1273.5L2204.1 1272.3L2208.6 1271.1L2213.2 1270.0L2217.8 1268.8L2222.4 1267.7L2227.0 1266.6L2231.6 1265.5L2236.1 1264.4L2240.7 1263.3L2245.3 1262.2L2249.9 1261.1L2254.5 1260.0L2259.1 1258.9L2263.6 1257.8L2268.2 1256.6L2272.8 1255.5L2277.4 1254.4L2281.9 1253.2L2286.5 1252.0L2291.1 1250.8L2295.7 1249.6L2300.2 1248.4L2304.8 1247.2L2309.4 1246.0L2314.0 1244.7L2318.5 1243.5L2323.1 1242.3L2327.7 1241.0L2332.2 1239.8L2336.8 1238.5L2341.4 1237.3L2345.9 1236.0L2350.5 1234.7L2355.1 1233.5L2359.6 1232.2L2364.2 1231.0L2368.8 1229.8L2373.3 1228.5L2377.9 1227.3L2382.4 1226.1L2387.0 1224.8L2391.6 1223.6L2396.1 1222.4L2400.7 1221.2L2405.2 1220.1L2409.8 1218.9L2414.3 1217.7L2418.9 1216.6L2423.4 1215.5L2428.0 1214.3L2432.5 1213.2L2437.1 1212.1L2441.6 1211.0L2446.2 1209.8L2450.7 1208.7L2455.3 1207.5L2459.8 1206.3L2464.4 1205.1L2468.9 1203.8L2473.5 1202.6L2478.0 1201.2L2482.5 1199.9L2487.1 1198.5L2491.6 1197.0L2496.1 1195.5L2500.7 1193.9L2505.2 1192.3L2509.7 1190.6L2514.3 1188.9L2518.8 1187.2L2523.3 1185.5L2527.8 1183.8L2532.3 1182.1L2536.9 1180.5L2541.4 1179.0L2545.9 1177.5L2550.4 1176.2L2554.9 1174.9L2559.4 1173.6L2563.9 1172.4L2568.4 1171.2L2572.9 1169.9L2577.4 1168.6L2581.9 1167.2L2586.4 1165.8L2590.8 1164.2L2595.3 1162.6L2599.8 1161.0L2604.3 1159.2L2608.8 1157.5L2613.2 1155.8L2617.7 1154.1L2622.2 1152.4L2626.6 1150.7L2631.1 1149.1L2635.5 1147.5L2640.0 1146.1L2644.4 1144.6L2648.9 1143.3L2653.3 1141.9L2657.7 1140.6L2662.2 1139.3L2666.6 1138.0L2671.0 1136.7L2675.4 1135.4L2679.9 1134.0L2684.3 1132.6L2688.7 1131.2L2693.1 1129.7L2697.5 1128.2L2701.9 1126.6L2706.3 1124.8L2710.7 1123.0L2715.1 1121.1L2719.4 1119.1L2723.8 1117.0L2728.2 1114.7L2732.6 1112.5L2736.9 1110.2L2741.3 1107.8L2745.7 1105.5L2750.1 1103.3L2754.5 1101.1L2758.9 1099.1L2763.3 1097.1L2767.7 1095.2L2772.1 1093.4L2776.5 1091.6L2780.9 1089.9L2785.4 1088.3L2789.8 1086.7L2794.2 1085.2L2798.6 1083.7L2803.1 1082.2L2807.5 1080.7L2811.9 1079.2L2816.3 1077.8L2820.7 1076.3L2825.1 1074.9L2829.5 1073.4L2833.9 1071.8L2838.3 1070.3L2842.7 1068.7L2847.0 1067.1L2851.4 1065.4L2855.7 1063.6L2860.0 1061.8L2864.3 1059.9L2868.6 1058.0L2872.9 1056.0L2877.1 1054.0L2881.4 1052.0L2885.6 1049.8L2889.8 1047.7L2894.0 1045.5L2898.2 1043.2L2902.4 1040.9L2906.6 1038.6L2910.7 1036.3L2914.8 1033.9L2918.9 1031.4L2923.0 1029.0L2927.1 1026.5L2931.2 1024.0L2935.2 1021.4L2939.2 1018.8L2943.2 1016.3L2947.2 1013.6L2951.2 1011.0L2955.2 1008.4L2959.1 1005.7L2963.0 1003.0L2966.9 1000.3L2970.8 997.6L2974.6 994.9L2978.5 992.1L2982.3 989.3L2986.1 986.5L2989.9 983.7L2993.6 980.9L2997.3 978.0L3001.0 975.1L3004.7 972.2L3008.4 969.3L3012.0 966.3L3015.6 963.3L3019.2 960.3L3022.7 957.2L3026.3 954.1L3029.8 951.0L3033.2 947.9L3036.7 944.7L3040.1 941.4L3043.5 938.1L3046.8 934.8L3050.2 931.5L3053.5 928.1L3056.7 924.7L3060.0 921.2L3063.2 917.7L3066.3 914.2L3069.5 910.6L3072.6 907.1L3075.6 903.4L3078.7 899.8L3081.7 896.1L3084.6 892.4L3087.6 888.6L3090.5 884.9L3093.3 881.0L3096.1 877.2L3098.9 873.3L3101.7 869.5L3104.4 865.5L3107.0 861.6L3109.7 857.6L3112.3 853.6L3114.8 849.6L3117.3 845.6L3119.8 841.5L3122.2 837.4L3124.6 833.3L3126.9 829.1L3129.2 825.0L3131.4 820.8L3133.6 816.6L3135.8 812.4L3137.9 808.1L3140.0 803.9L3142.0 799.6L3144.0 795.3L3145.9 791.0L3147.8 786.6L3149.6 782.3L3151.4 777.9L3153.1 773.5L3154.8 769.1L3156.5 764.7L3158.0 760.3L3159.6 755.8L3161.1 751.4L3162.5 746.9L3163.9 742.4L3165.2 737.9L3166.5 733.4L3167.7 728.9L3168.9 724.4L3170.1 719.8L3171.2 715.3L3172.3 710.7L3173.4 706.2L3174.5 701.6L3175.5 697.0L3176.6 692.4L3177.6 687.8L3178.6 683.2L3179.6 678.6L3180.6 673.9L3181.6 669.3L3182.6 664.7L3183.6 660.0L3184.5 655.3L3185.4 650.7L3186.3 646.0L3187.2 641.3L3188.0 636.6L3188.8 632.0L3189.5 627.3L3190.2 622.6L3190.9 617.9L3191.5 613.2L3192.0 608.4L3192.5 603.7L3193.0 599.0L3193.5 594.3L3193.9 589.6L3194.2 584.8L3194.6 580.1L3194.9 575.4L3195.1 570.7L3195.4 565.9L3195.6 561.2L3195.8 556.5L3196.0 551.7L3196.2 547.0L3196.4 542.3L3196.6 537.5L3196.8 532.8L3196.9 528.1L3197.1 523.3L3197.3 518.6L3197.5 513.9L3197.7 509.1L3197.9 504.4L3198.1 499.7L3198.3 495.0L3198.6 490.3L3198.8 485.6L3199.1 480.8L3199.4 476.1L3199.7 471.4L3200.1 466.7L3200.4 462.1L3200.8 457.4L3201.2 452.7L3201.6 448.0L3202.0 443.4L3202.5 438.7" stroke="#ffa500"/>
</g>
<circle cx="509.2" cy="1489.3" r="22.5" fill="#0000ff"/>
<circle cx="1170.2" cy="1385.6" r="22.5" fill="#0000ff"/>
<circle cx="1762.0" cy="1286.0" r="22.5" fill="#0000ff"/>
<circle cx="2296.7" cy="1168.6" r="22.5" fill="#0000ff"/>
<circle cx="2765.3" cy="1017.6" r="22.5" fill="#0000ff"/>
<circle cx="2976.2" cy="900.2" r="22.5" fill="#0000ff"/>
<circle cx="3106.1" cy="759.0" r="22.5" fill="#0000ff"/>
<circle cx="599.8" cy="1568.7" r="22.5" fill="#ffa500"/>
<circle cx="1184.4" cy="1478.5" r="22.5" fill="#ffa500"/>
<circle cx="1727.6" cy="1380.0" r="22.5" fill="#ffa500"/>
<circle cx="2230.0" cy="1265.0" r="22.5" fill="#ffa500"/>
<circle cx="2718.8" cy="1119.8" r="22.5" fill="#ffa500"/>
<circle cx="2959.0" cy="1004.5" r="22.5" fill="#ffa500"/>
<circle cx="3100.5" cy="871.8" r="22.5" fill="#ffa500"/>
<g clip-path="url(#c2)" fill="none" stroke-width="8.44" stroke-linejoin="round">
<path d="M385.8 2548.1L392.4 2548.1L406.9 2549.4L416.4 2547.3L423.5 2553.5L438.0 2557.7L456.6 2553.5L471.1 2546.1L479.4 2549.4L495.9 2548.6L504.2 2551.4L512.5 2547.3L520.8 2550.2L529.1 2554.8L539.4 2552.3L545.6 2553.5L553.9 2558.5L560.1 2565.1L574.6 2556.8L582.9 2566.8L591.2 2567.6L599.5 2562.6L607.7 2568.0L618.1 2575.5L624.3 2578.4L633.4 2580.4L649.2 2575.5L657.4 2575.5L665.7 2571.3L674.0 2568.0L682.3 2563.0L688.5 2563.0L696.8 2565.9L707.1 2562.6L715.4 2561.0L721.6 2562.6L736.1 2556.4L752.7 2556.8L769.2 2554.8L777.5 2549.4L783.7 2548.6L794.1 2553.5L802.4 2556.4L818.9 2552.3L833.4 2554.3L841.7 2550.6L850.0 2552.3L858.3 2556.4L866.5 2558.5L872.8 2554.3L883.1 2556.8L891.4 2554.8L899.7 2556.4L908.0 2560.6L914.2 2560.6L930.7 2557.7L939.0 2554.3L953.5 2551.4L974.2 2550.6L986.6 2556.8L994.9 2553.5L1001.1 2548.6L1011.5 2545.2L1019.8 2550.2L1028.0 2548.1L1034.2 2555.6L1042.5 2557.7L1050.8 2555.6L1059.1 2548.6L1067.4 2547.3L1075.7 2551.4L1083.9 2548.1L1100.5 2548.6L1110.8 2546.1L1119.1 2545.2L1131.6 2546.5L1141.9 2550.2L1156.4 2550.2L1164.7 2555.6L1173.0 2550.6L1180.0 2550.6L1188.3 2546.1L1196.6 2549.4L1204.8 2546.9L1221.4 2550.2L1229.7 2552.7L1246.3 2551.9L1260.7 2550.6L1269.0 2556.4L1285.6 2557.7L1295.9 2561.8L1310.4 2563.9L1318.7 2560.1L1327.0 2561.0L1339.4 2560.1L1348.9 2557.7L1358.1 2561.8L1365.5 2559.3L1382.9 2562.6L1393.3 2561.0L1406.9 2559.7L1422.2 2562.6L1438.8 2562.6L1455.4 2560.6L1469.9 2560.6L1486.4 2559.7L1494.7 2561.0L1505.1 2563.5L1519.5 2565.1L1527.8 2570.9L1535.3 2568.8L1544.4 2572.6L1556.8 2574.2L1567.2 2577.5L1579.6 2580.4L1589.9 2581.7L1600.3 2578.8L1614.8 2577.5L1623.9 2572.6L1631.3 2573.4L1639.6 2576.7L1647.9 2574.2L1656.2 2568.0L1666.5 2569.3L1679.0 2568.4L1688.5 2564.3L1697.6 2568.8L1705.1 2567.6L1712.1 2568.8L1719.5 2567.2L1728.7 2570.9L1736.9 2570.9L1745.2 2574.2L1761.8 2572.6L1776.3 2576.7L1792.8 2580.4L1809.4 2582.5L1819.8 2580.0L1834.2 2583.3L1844.6 2583.3L1848.7 2584.6L1858.3 2581.7L1865.3 2582.5L1873.6 2580.4L1879.8 2580.4L1890.1 2583.3L1904.6 2583.7L1917.1 2581.7L1921.2 2583.3L1928.7 2580.8L1937.8 2583.3L1946.0 2580.4L1954.3 2583.3L1962.6 2590.0L1975.0 2590.0L1980.0 2590.0L1994.5 2585.8L2002.8 2585.8L2011.1 2587.5L2018.1 2585.8L2027.6 2587.5L2042.1 2587.5L2051.2 2582.5L2058.7 2585.8L2067.0 2590.0L2081.4 2586.6L2091.0 2583.7L2099.3 2587.5L2106.3 2587.5L2115.8 2583.3L2122.9 2582.5L2139.4 2586.6L2153.9 2586.6L2166.3 2585.4L2178.8 2585.0L2188.3 2585.8L2196.6 2591.6L2211.9 2590.8L2224.3 2592.4L2234.7 2591.6L2242.9 2589.5L2252.5 2593.3L2260.7 2592.0L2268.6 2587.5L2276.1 2590.0L2285.6 2593.3L2294.7 2593.7L2303.0 2595.8L2315.4 2596.2L2325.8 2597.8L2340.2 2596.6L2349.8 2599.1L2356.8 2597.0L2369.2 2597.8L2373.4 2597.8L2380.8 2594.1L2387.9 2595.8L2404.4 2590.8L2414.0 2586.6L2421.0 2587.5L2430.1 2585.8L2437.6 2589.5L2445.8 2587.5L2452.0 2589.1L2461.2 2593.7L2468.6 2592.4L2479.0 2590.0L2485.2 2589.1L2493.5 2585.8L2503.8 2587.5L2518.3 2590.0L2526.6 2588.3L2534.9 2591.6L2551.4 2594.9L2557.6 2594.9L2568.0 2592.4L2576.3 2592.0L2582.5 2589.5L2589.9 2587.5L2599.0 2590.8L2607.3 2590.8L2617.7 2593.3L2638.4 2595.8L2646.7 2598.2L2654.9 2600.3L2663.2 2599.9L2671.5 2594.9L2679.8 2590.8L2690.1 2592.0L2710.8 2592.0L2720.0 2596.2L2731.6 2592.9L2744.0 2588.7L2750.0 2593.6L2760.4 2590.3L2775.9 2588.4L2782.3 2588.4L2792.7 2591.8L2806.9 2592.6L2816.0 2587.2L2832.8 2582.8L2839.3 2582.0L2847.0 2582.8L2857.4 2585.9L2865.2 2586.4L2871.6 2585.1L2879.4 2580.7L2888.5 2576.0L2896.2 2575.5L2905.3 2573.7L2919.5 2572.1L2928.6 2567.7L2936.3 2566.4L2944.1 2564.1L2953.2 2561.8L2960.9 2555.6L2970.0 2556.1L2976.4 2556.1L2985.0 2559.2L2992.0 2557.4L3000.5 2556.1L3008.8 2550.9L3017.9 2552.7L3025.6 2550.9L3033.4 2550.1L3042.4 2546.5L3048.9 2545.0L3058.0 2548.9L3067.0 2546.3L3073.5 2543.2L3081.3 2538.5L3089.0 2535.9L3096.8 2529.7L3106.6 2520.4L3113.6 2516.5L3120.1 2503.0L3129.1 2483.6L3136.9 2481.8L3146.0 2494.8L3153.7 2472.8L3161.5 2479.8L3170.5 2490.1L3178.3 2492.7L3190.0 2370.5L3191.0 2355.5" stroke="#0000ff"/>
<path d="M386.0 2795.83H3206.8" stroke="#ffa500"/>
</g>
<g stroke="#000" fill="none" stroke-width="11.4" stroke-linejoin="miter">
<rect x="386.0" y="166.8" width="2820.8" height="1940.8"/>
<rect x="386.0" y="2364.5" width="2820.8" height="647.0"/>
</g>
<path d="M503.9 335.2H695.8" stroke="#0000ff" stroke-width="8.44"/>
<path d="M503.9 512H695.8" stroke="#ffa500" stroke-width="8.44"/>
<text transform="translate(389.00 128.60) scale(1.0 1.066)" font-size="173.3" text-anchor="start" font-weight="bold">CMS</text>
<text transform="translate(792.00 128.60) scale(1.0 1.03)" font-size="133.1" text-anchor="start" font-style="italic">Simulation Preliminary</text>
<text transform="translate(3206.80 130.50) scale(1.0 1.05)" font-size="126.5" text-anchor="end" >(13 TeV)</text>
<text transform="translate(790.00 377.70) scale(1.0 1.035)" font-size="122.0" text-anchor="start" >DeepTau (v2.1) vs. jet</text>
<text transform="translate(790.00 555.10) scale(1.0 1.035)" font-size="122.0" text-anchor="start" >DeepTau (v2.5) vs. jet</text>
<text transform="translate(525.60 735.20)" font-size="111.0" text-anchor="start" >p</text>
<text transform="translate(589.30 752.80) scale(1.0 1.05)" font-size="78.5" text-anchor="start" >T</text>
<text transform="translate(667.00 753.10) scale(0.7047 1.261)" font-size="111.0" text-anchor="start" >&gt;</text>
<text transform="translate(742.30 735.20) scale(1.0 1.045)" font-size="111.0" text-anchor="start" >100 GeV</text>
<text transform="translate(527.30 860.70)" font-size="111.0" text-anchor="start" >|</text>
<text transform="translate(557.80 860.70) scale(0.965 1.0)" font-size="111.0" text-anchor="start" >η</text>
<text transform="translate(618.10 860.70)" font-size="111.0" text-anchor="start" >|</text>
<text transform="translate(673.10 879.20) scale(0.701 1.254)" font-size="111.0" text-anchor="start" >&lt;</text>
<text transform="translate(747.30 860.70) scale(1.0 1.035)" font-size="111.0" text-anchor="start" >2.3</text>
<text transform="translate(526.90 983.60) scale(1.0 1.018)" font-size="111.0" text-anchor="start" >Jets from tt</text>
<text transform="translate(1048.65 1015.00) scale(1.0 3.1)" font-size="54" text-anchor="start" >¯</text>
<text transform="translate(386.00 3125.70) scale(1.0 1.035)" font-size="111.0" text-anchor="middle" >0.65</text>
<text transform="translate(788.97 3125.70) scale(1.0 1.035)" font-size="111.0" text-anchor="middle" >0.70</text>
<text transform="translate(1191.94 3125.70) scale(1.0 1.035)" font-size="111.0" text-anchor="middle" >0.75</text>
<text transform="translate(1594.91 3125.70) scale(1.0 1.035)" font-size="111.0" text-anchor="middle" >0.80</text>
<text transform="translate(1997.89 3125.70) scale(1.0 1.035)" font-size="111.0" text-anchor="middle" >0.85</text>
<text transform="translate(2400.86 3125.70) scale(1.0 1.035)" font-size="111.0" text-anchor="middle" >0.90</text>
<text transform="translate(2803.83 3125.70) scale(1.0 1.035)" font-size="111.0" text-anchor="middle" >0.95</text>
<text transform="translate(3206.80 3125.70) scale(1.0 1.035)" font-size="111.0" text-anchor="middle" >1.00</text>
<text transform="translate(362.13 163.40) scale(1.0 1.05)" font-size="77.7" text-anchor="end" >0</text>
<text transform="translate(317.33 203.30) scale(1.0 1.035)" font-size="111.0" text-anchor="end" >10</text>
<text transform="translate(349.86 648.60) scale(0.75 1.05)" font-size="77.7" text-anchor="end" >1</text>
<text transform="translate(272.43 688.50) scale(1.0 1.035)" font-size="111.0" text-anchor="end" >10</text>
<text transform="translate(273.67 652.80)" font-size="77.7" text-anchor="start" >−</text>
<text transform="translate(362.28 1133.80) scale(1.0 1.05)" font-size="77.7" text-anchor="end" >2</text>
<text transform="translate(272.43 1173.70) scale(1.0 1.035)" font-size="111.0" text-anchor="end" >10</text>
<text transform="translate(273.67 1138.00)" font-size="77.7" text-anchor="start" >−</text>
<text transform="translate(363.02 1619.00) scale(1.0 1.05)" font-size="77.7" text-anchor="end" >3</text>
<text transform="translate(272.43 1658.90) scale(1.0 1.035)" font-size="111.0" text-anchor="end" >10</text>
<text transform="translate(273.67 1623.20)" font-size="77.7" text-anchor="start" >−</text>
<text transform="translate(361.85 2104.20) scale(1.0 1.05)" font-size="77.7" text-anchor="end" >4</text>
<text transform="translate(272.43 2144.10) scale(1.0 1.035)" font-size="111.0" text-anchor="end" >10</text>
<text transform="translate(273.67 2108.40)" font-size="77.7" text-anchor="start" >−</text>
<text transform="translate(367.55 2404.00) scale(1.0 1.035)" font-size="111.0" text-anchor="end" >2</text>
<text transform="translate(352.94 2834.33) scale(1.0 1.035)" font-size="111.0" text-anchor="end" >1</text>
<text transform="translate(1718.80 3270.40)" font-size="133.2" text-anchor="start" >τ</text>
<text transform="translate(1780.50 3289.90)" font-size="93.2" text-anchor="start" >h</text>
<text transform="translate(3204.70 3270.40) scale(1.0 1.018)" font-size="133.2" text-anchor="end" >identification efficiency</text>
<text transform="translate(98.60 166.80) rotate(-90) scale(1.0 1.018)" font-size="133.2" text-anchor="end" >Jet misidentification probability</text>
<text transform="translate(252.30 2692.00) rotate(-90) scale(1.0 1.035)" font-size="133.2" text-anchor="middle" >v2.1 / v2.5</text>
</svg>
</body></html>
